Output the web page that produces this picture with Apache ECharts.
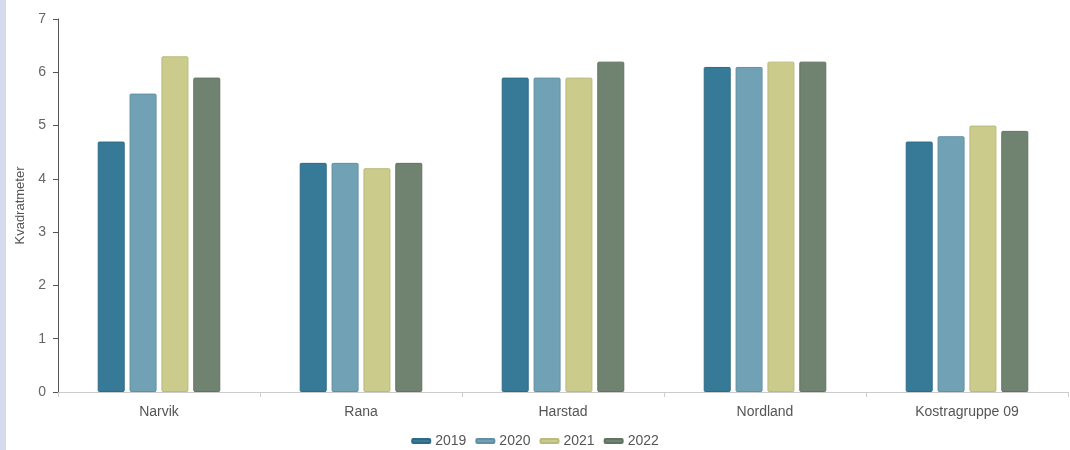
<!DOCTYPE html>
<html>
<head>
<meta charset="utf-8">
<script src="https://cdn.jsdelivr.net/npm/echarts@6/dist/echarts.min.js"></script>
<style>
html,body{margin:0;padding:0;background:#fff;}
#chart{width:1070px;height:450px;}
</style>
</head>
<body>
<div id="chart"></div>
<script>
const categories = ['Narvik', 'Rana', 'Harstad', 'Nordland', 'Kostragruppe 09'];
const years = ['2019', '2020', '2021', '2022'];
const values2019 = [4.7, 4.3, 5.9, 6.1, 4.7];
const values2020 = [5.6, 4.3, 5.9, 6.1, 4.8];
const values2021 = [6.3, 4.2, 5.9, 6.2, 5.0];
const values2022 = [5.9, 4.3, 6.2, 6.2, 4.9];
const yTicks = [0, 1, 2, 3, 4, 5, 6, 7];

const colors = ['#367a98', '#70a1b5', '#cbcc8b', '#6f8370'];
const borders = ['#2f6a84', '#6290a3', '#b9ba7c', '#617362'];
const allValues = [values2019, values2020, values2021, values2022];
const font = 'Arial, Liberation Sans, sans-serif';

const chart = echarts.init(document.getElementById('chart'));
chart.setOption({
  animation: false,
  color: colors,
  graphic: [{
    type: 'rect', left: 0, top: 0, z: 100,
    shape: { width: 6, height: 450 },
    style: { fill: '#d5dbec' }
  }],
  grid: { left: 58, right: 2, top: 19, bottom: 58, containLabel: false },
  legend: {
    top: 429,
    left: 'center',
    icon: 'roundRect',
    itemWidth: 18,
    itemHeight: 4,
    itemGap: 9,
    textStyle: { color: '#555', fontSize: 14, fontFamily: font },
    data: years
  },
  xAxis: {
    type: 'category',
    data: categories,
    axisLine: { lineStyle: { color: '#ccc' } },
    axisTick: { show: true, length: 5, lineStyle: { color: '#ccc' } },
    axisLabel: { color: '#555', fontSize: 14, margin: 13, fontFamily: font }
  },
  yAxis: {
    type: 'value',
    min: yTicks[0],
    max: yTicks[yTicks.length - 1],
    interval: 1,
    name: 'Kvadratmeter',
    nameLocation: 'middle',
    nameGap: 29,
    nameTextStyle: { color: '#555', fontSize: 13, fontFamily: font },
    axisLine: { show: true, lineStyle: { color: '#555' } },
    axisTick: { show: true, length: 5, lineStyle: { color: '#555' } },
    splitLine: { show: false },
    axisLabel: { color: '#666', fontSize: 14, margin: 12, fontFamily: font }
  },
  series: years.map((y, i) => ({
    name: y,
    type: 'bar',
    data: allValues[i],
    barWidth: 27,
    barGap: '18%',
    itemStyle: { color: colors[i], borderColor: borders[i], borderWidth: 1, borderRadius: 1 }
  }))
});
</script>
</body>
</html>
